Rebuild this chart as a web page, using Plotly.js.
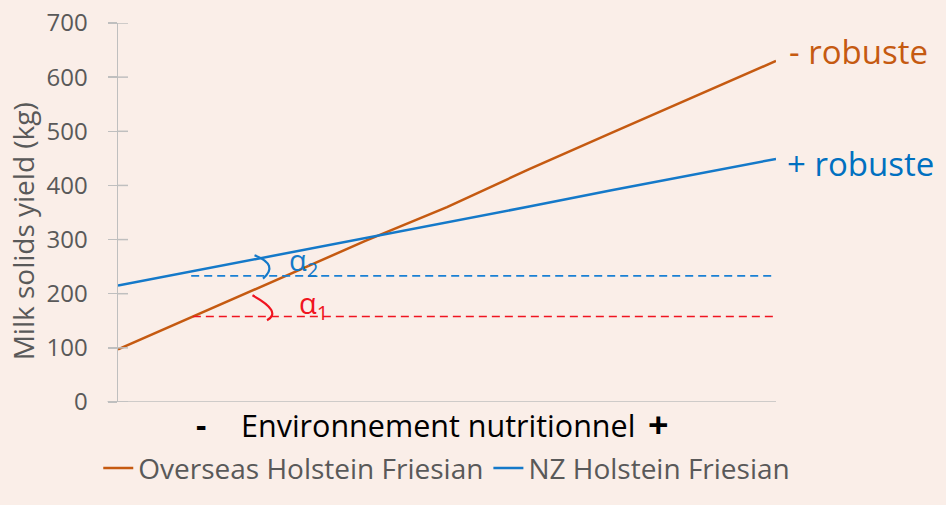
<!DOCTYPE html>
<html>
<head>
<meta charset="utf-8">
<script src="https://cdn.plot.ly/plotly-3.0.1.min.js"></script>
<style>
html,body{margin:0;padding:0;background:#FAEEE8;}
#chart{width:946px;height:505px;}
</style>
</head>
<body>
<div id="chart"></div>
<script>
// ---- data ----
const envPos = [0, 1, 2, 3, 4, 5, 6, 7, 8];
const overseasHF = [97, 164, 230, 297, 360, 430, 497, 563, 630];
const nzHF = [215, 244, 274, 303, 331, 361, 391, 420, 449];
const seriesNames = ["Overseas Holstein Friesian", "NZ Holstein Friesian"];
const yTickVals = [0, 100, 200, 300, 400, 500, 600, 700];
const yTickText = ["0", "100", "200", "300", "400", "500", "600", "700"];
const refAlpha1X = [0.91, 8];
const refAlpha1Y = [158, 158];
const refAlpha2X = [0.89, 8];
const refAlpha2Y = [233, 233];

const FONT = "Open Sans, Lato, sans-serif";
const GRAY = "#595959";
const AXIS = "#BFBFBF";
const ORANGE = "#C55A11";
const BLUE = "#1479C9";
const RED = "#F01420";

const traces = [
  {x: envPos, y: overseasHF, name: seriesNames[0], type: "scatter", mode: "lines",
   line: {color: ORANGE, width: 2.5}},
  {x: envPos, y: nzHF, name: seriesNames[1], type: "scatter", mode: "lines",
   line: {color: BLUE, width: 2.5}},
  {x: refAlpha2X, y: refAlpha2Y, type: "scatter", mode: "lines", showlegend: false, hoverinfo: "skip",
   line: {color: "#1A80D4", width: 1.6, dash: "8px,5px"}},
  {x: refAlpha1X, y: refAlpha1Y, type: "scatter", mode: "lines", showlegend: false, hoverinfo: "skip",
   line: {color: RED, width: 1.6, dash: "8px,5px"}}
];

// inner half of the crossing y ticks
const innerTicks = yTickVals.map(v => ({
  type: "line", xref: "paper", yref: "y", x0: 0, x1: 10 / 658, y0: v, y1: v,
  line: {color: AXIS, width: 1.5}
}));

const layout = {
  width: 946, height: 505,
  paper_bgcolor: "#FAEEE8", plot_bgcolor: "#FAEEE8",
  margin: {l: 118, r: 170, t: 23, b: 100},
  font: {family: FONT, color: GRAY},
  showlegend: true,
  legend: {orientation: "h", x: -0.03, xanchor: "left", y: -0.175, yanchor: "middle",
           font: {family: FONT, size: 28, color: GRAY}, bgcolor: "rgba(0,0,0,0)",
           itemwidth: 30, tracegroupgap: 0, traceorder: "normal"},
  xaxis: {range: [0, 8], showgrid: false, zeroline: false, showline: false,
          showticklabels: false, ticks: "", fixedrange: true},
  yaxis: {range: [0, 700], tickvals: yTickVals, ticktext: yTickText,
          showgrid: false, zeroline: false, showline: true, linecolor: AXIS, linewidth: 1.5,
          ticks: "outside", ticklen: 9, tickwidth: 1.5, tickcolor: AXIS,
          ticklabelstandoff: 15,
          tickfont: {family: FONT, size: 24, color: GRAY}, fixedrange: true},
  shapes: [
    // x axis line extending left of the y axis
    {type: "line", xref: "paper", yref: "y", x0: -0.016, x1: 1.0, y0: 0, y1: 0,
     line: {color: AXIS, width: 1.5}},
    // angle arcs
    {type: "path", xref: "x", yref: "y", path: "M1.660,271 Q1.960,252.9 1.763,228",
     line: {color: BLUE, width: 2.2}},
    {type: "path", xref: "x", yref: "y", path: "M1.635,197 Q2.000,166.8 1.812,151",
     line: {color: RED, width: 2.2}}
  ].concat(innerTicks),
  annotations: [
    {text: "Milk solids yield (kg)", xref: "paper", yref: "paper", x: -0.143, y: 0.45,
     textangle: -90, showarrow: false, xanchor: "center", yanchor: "middle",
     font: {family: FONT, size: 28, color: GRAY}},
    {text: "<b>-</b>", xref: "paper", yref: "paper", x: 0.126, y: -0.06, showarrow: false,
     xanchor: "center", yanchor: "middle", font: {family: FONT, size: 32, color: "#000"}},
    {text: "Environnement nutritionnel", xref: "paper", yref: "paper", x: 0.487, y: -0.06,
     showarrow: false, xanchor: "center", yanchor: "middle", font: {family: FONT, size: 30.5, color: "#000"}},
    {text: "<b>+</b>", xref: "paper", yref: "paper", x: 0.821, y: -0.06, showarrow: false,
     xanchor: "center", yanchor: "middle", font: {family: FONT, size: 36, color: "#000"}},
    {text: "- robuste", xref: "paper", yref: "paper", x: 1.017, y: 0.924, showarrow: false,
     xanchor: "left", yanchor: "middle", font: {family: FONT, size: 33, color: ORANGE}},
    {text: "+ robuste", xref: "paper", yref: "paper", x: 1.014, y: 0.628, showarrow: false,
     xanchor: "left", yanchor: "middle", font: {family: FONT, size: 33, color: "#0070C0"}},
    {text: "α<sub>2</sub>", xref: "paper", yref: "paper", x: 0.282, y: 0.372, showarrow: false,
     xanchor: "center", yanchor: "middle", font: {family: FONT, size: 29, color: BLUE}},
    {text: "α<sub>1</sub>", xref: "paper", yref: "paper", x: 0.297, y: 0.257, showarrow: false,
     xanchor: "center", yanchor: "middle", font: {family: FONT, size: 29, color: RED}}
  ]
};

Plotly.newPlot("chart", traces, layout, {displayModeBar: false, staticPlot: true});
</script>
</body>
</html>
